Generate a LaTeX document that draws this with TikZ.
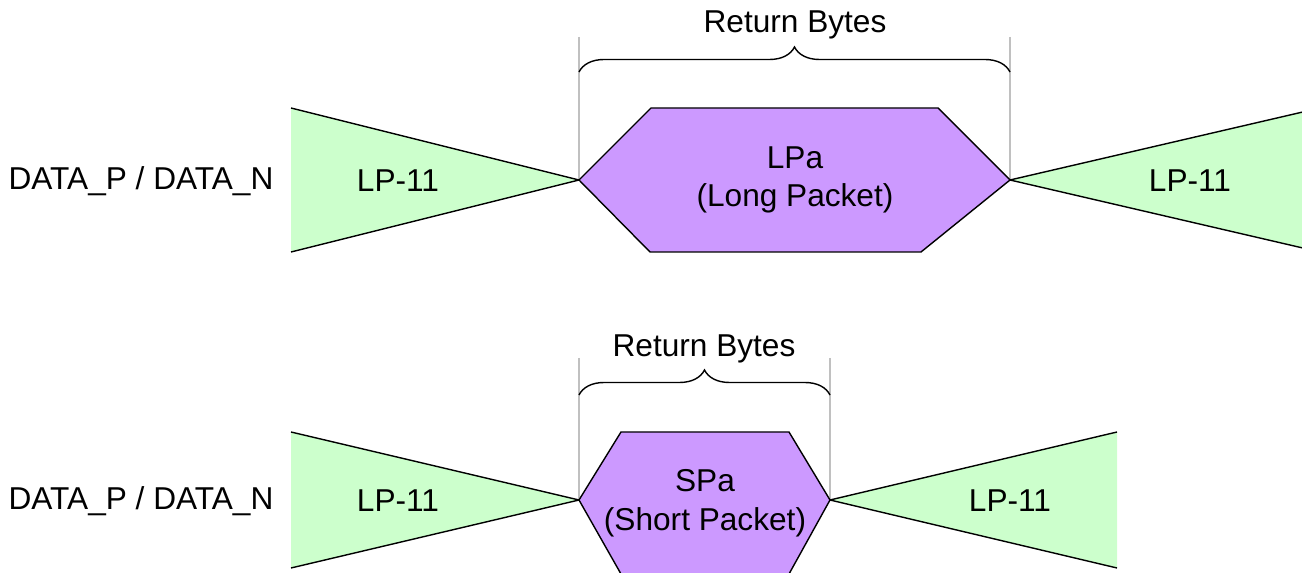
\documentclass[tikz,border=0pt]{standalone}
\usepackage{fontspec}
\setmainfont{Liberation Sans}
\usetikzlibrary{decorations.pathreplacing}
\definecolor{lpgreen}{RGB}{204,255,204}
\definecolor{pktviolet}{RGB}{204,153,255}
\definecolor{guidegray}{RGB}{192,192,192}

\begin{document}
\begin{tikzpicture}[x=0.02cm, y=-0.02cm,
    lpfill/.style={fill=lpgreen},
    edge/.style={draw=black, line width=0.8pt, line join=miter},
    pktbox/.style={fill=pktviolet, draw=black, line width=0.8pt},
    guide/.style={draw=guidegray, line width=0.6pt},
    bytebrace/.style={decorate, decoration={brace, amplitude=0.5cm}, line width=0.8pt},
    lbl/.style={font=\fontsize{18}{22}\selectfont, align=center, inner sep=0pt},
  ]
  \useasboundingbox (0,0) rectangle (1302,573);

  % long packet row
  \coordinate (la) at (579,180);
  \coordinate (lb) at (1010,180);
  \coordinate (lgl) at (579,37);
  \coordinate (lgr) at (1010,37);
  \draw[guide] (lgl) -- (la);
  \draw[guide] (lgr) -- (lb);
  \fill[lpfill] (291,108) -- (la) -- (291,252) -- cycle;
  \draw[edge] (291,108) -- (la) -- (291,252);
  \fill[lpfill] (1320,108) -- (lb) -- (1320,252) -- cycle;
  \draw[edge] (1320,108) -- (lb) -- (1320,252);
  \filldraw[pktbox] (la) -- (651,108) -- (938,108) -- (lb) -- (921,252) -- (650,252) -- cycle;
  \draw[bytebrace] (579,72) -- (1010,72);
  \node[lbl] (rb1) at (795,25) {Return Bytes};
  \node[lbl] (dl1) at (141,181) {DATA\_P / DATA\_N};
  \node[lbl] (lp1) at (398,181) {LP-11};
  \node[lbl] (lp2) at (1190,181) {LP-11};
  \node[lbl] (lpa) at (795,180) {LPa\\(Long Packet)};

  % short packet row
  \coordinate (sa) at (579,500);
  \coordinate (sb) at (830,500);
  \coordinate (sgl) at (579,358);
  \coordinate (sgr) at (830,358);
  \draw[guide] (sgl) -- (sa);
  \draw[guide] (sgr) -- (sb);
  \fill[lpfill] (291,432) -- (sa) -- (291,568) -- cycle;
  \draw[edge] (291,432) -- (sa) -- (291,568);
  \fill[lpfill] (1117,432) -- (sb) -- (1117,568) -- cycle;
  \draw[edge] (1117,432) -- (sb) -- (1117,568);
  \filldraw[pktbox] (sa) -- (621,432) -- (789,432) -- (sb) -- (789,574) -- (621,574) -- cycle;
  \draw[bytebrace] (579,395) -- (830,395);
  \node[lbl] (rb2) at (704,349) {Return Bytes};
  \node[lbl] (dl2) at (141,501) {DATA\_P / DATA\_N};
  \node[lbl] (lp3) at (398,501) {LP-11};
  \node[lbl] (lp4) at (1010,501) {LP-11};
  \node[lbl] (spa) at (705,503) {SPa\\(Short Packet)};
\end{tikzpicture}
\end{document}
